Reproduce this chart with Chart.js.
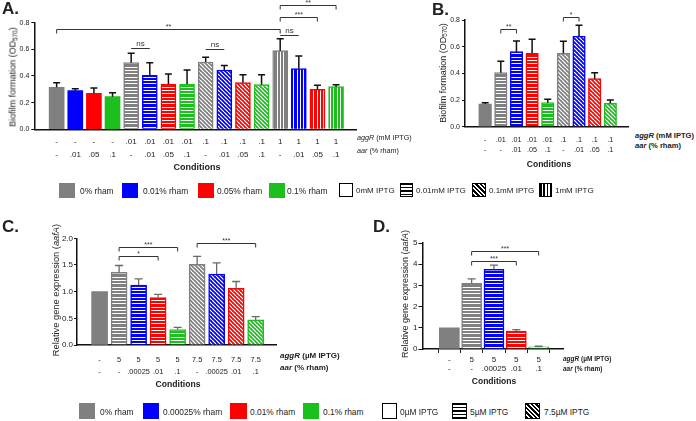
<!DOCTYPE html>
<html><head><meta charset="utf-8">
<script src="https://cdn.jsdelivr.net/npm/chart.js@4.4.1/dist/chart.umd.min.js"></script>
<style>
html,body{margin:0;padding:0;background:#fff;width:696px;height:421px;overflow:hidden;font-family:"Liberation Sans",Arial,sans-serif;color:#222}
canvas{position:absolute}
.t{position:absolute;white-space:nowrap;line-height:1;transform:translateY(-50%)}
.c{position:absolute;white-space:nowrap;line-height:1;transform:translate(-50%,-50%);font-weight:bold}
.yt{position:absolute;white-space:nowrap;line-height:1;transform:translate(-50%,-50%) rotate(-90deg)}
.yt sub{font-size:70%;vertical-align:-0.25em;line-height:0}
.L{position:absolute;font-weight:bold;line-height:1;transform:translateY(-50%)}
.sq{position:absolute;box-sizing:border-box}
.pw{border:1.5px solid #000;background:#fff}
.ph{border:1.5px solid #000;background:repeating-linear-gradient(180deg,#000 0 1.2px,#fff 1.2px 3.2px)}
.pd{border:1.5px solid #000;background:repeating-linear-gradient(45deg,#000 0 2px,#fff 2px 3.2px)}
.pv{border:1.5px solid #000;background:repeating-linear-gradient(90deg,#000 0 1.6px,#fff 1.6px 3.4px)}
</style></head>
<body>
<canvas id="cA" width="362" height="175" style="left:0;top:0"></canvas>
<canvas id="cB" width="200" height="175" style="left:430px;top:0"></canvas>
<canvas id="cC" width="285" height="190" style="left:0;top:200px"></canvas>
<canvas id="cD" width="190" height="190" style="left:380px;top:200px"></canvas>

<div class="L" style="left:2px;top:8px;font-size:17px">A.</div>
<div class="L" style="left:432px;top:9px;font-size:17px">B.</div>
<div class="L" style="left:2px;top:226px;font-size:17px">C.</div>
<div class="L" style="left:373px;top:226px;font-size:17px">D.</div>

<div class="yt" style="left:13px;top:77px;font-size:9px">Biofilm formation (OD<sub>570</sub>)</div>
<div class="yt" style="left:443px;top:73px;font-size:9px">Biofilm formation (OD<sub>570</sub>)</div>
<div class="yt" style="left:57px;top:290px;font-size:9.3px">Relative gene expression (<i>aafA</i>)</div>
<div class="yt" style="left:405px;top:294px;font-size:9px">Relative gene expression (<i>aafA</i>)</div>

<div class="t" style="left:357px;top:138px;font-size:7.2px"><i>aggR</i> (mM IPTG)</div>
<div class="t" style="left:357px;top:151px;font-size:7.2px"><i>aar</i> (% rham)</div>
<div class="t" style="left:635px;top:136px;font-size:7.6px;font-weight:bold"><i>aggR</i> (mM IPTG)</div>
<div class="t" style="left:635px;top:146px;font-size:7.6px;font-weight:bold"><i>aar</i> (% rham)</div>
<div class="t" style="left:280px;top:356px;font-size:8px;font-weight:bold"><i>aggR</i> (µM IPTG)</div>
<div class="t" style="left:280px;top:368px;font-size:8px;font-weight:bold"><i>aar</i> (% rham)</div>
<div class="t" style="left:563px;top:359px;font-size:6.5px;font-weight:bold"><i>aggR</i> (µM IPTG)</div>
<div class="t" style="left:563px;top:369px;font-size:6.5px;font-weight:bold"><i>aar</i> (% rham)</div>

<div class="c" style="left:197px;top:167px;font-size:9px">Conditions</div>
<div class="c" style="left:549px;top:164px;font-size:8.5px">Conditions</div>
<div class="c" style="left:178px;top:384px;font-size:8.6px">Conditions</div>
<div class="c" style="left:494px;top:381px;font-size:8.5px">Conditions</div>

<!-- legend A/B -->
<div class="sq" style="left:59px;top:183px;width:16px;height:15px;background:#808080"></div>
<div class="t" style="left:80px;top:190.5px;font-size:8.4px">0% rham</div>
<div class="sq" style="left:122px;top:183px;width:16px;height:15px;background:#0000ff"></div>
<div class="t" style="left:143px;top:190.5px;font-size:8.4px">0.01% rham</div>
<div class="sq" style="left:198px;top:183px;width:16px;height:15px;background:#ff0000"></div>
<div class="t" style="left:217px;top:190.5px;font-size:8.4px">0.05% rham</div>
<div class="sq" style="left:269px;top:183px;width:16px;height:15px;background:#1cc01c"></div>
<div class="t" style="left:287px;top:190.5px;font-size:8.4px">0.1% rham</div>
<div class="sq pw" style="left:339px;top:183px;width:14px;height:14px"></div>
<div class="t" style="left:356px;top:190.5px;font-size:8px">0mM IPTG</div>
<div class="sq ph" style="left:400px;top:183px;width:13px;height:14px"></div>
<div class="t" style="left:416px;top:190.5px;font-size:8px">0.01mM IPTG</div>
<div class="sq pd" style="left:472px;top:183px;width:14px;height:14px"></div>
<div class="t" style="left:489px;top:190.5px;font-size:8px">0.1mM IPTG</div>
<div class="sq pv" style="left:539px;top:183px;width:13px;height:14px"></div>
<div class="t" style="left:555px;top:190.5px;font-size:8px">1mM IPTG</div>

<!-- legend C/D -->
<div class="sq" style="left:79px;top:403px;width:16px;height:16px;background:#808080"></div>
<div class="t" style="left:100px;top:411.5px;font-size:8.4px">0% rham</div>
<div class="sq" style="left:143px;top:403px;width:16px;height:16px;background:#0000ff"></div>
<div class="t" style="left:163px;top:411.5px;font-size:8.4px">0.00025% rham</div>
<div class="sq" style="left:230px;top:403px;width:17px;height:16px;background:#ff0000"></div>
<div class="t" style="left:250px;top:411.5px;font-size:8.4px">0.01% rham</div>
<div class="sq" style="left:303px;top:403px;width:16px;height:16px;background:#1cc01c"></div>
<div class="t" style="left:323px;top:411.5px;font-size:8.4px">0.1% rham</div>
<div class="sq pw" style="left:382px;top:403px;width:15px;height:16px"></div>
<div class="t" style="left:400px;top:411.5px;font-size:8.4px">0µM IPTG</div>
<div class="sq ph" style="left:452px;top:403px;width:15px;height:16px"></div>
<div class="t" style="left:470px;top:411.5px;font-size:8.4px">5µM IPTG</div>
<div class="sq pd" style="left:525px;top:403px;width:15px;height:16px"></div>
<div class="t" style="left:544px;top:411.5px;font-size:8.4px">7.5µM IPTG</div>

<script>
// ---------- Panel A ----------
const aIPTG = ['-','-','-','-','.01','.01','.01','.01','.1','.1','.1','.1','1','1','1','1'];
const aRham = ['-','.01','.05','.1','-','.01','.05','.1','-','.01','.05','.1','-','.01','.05','.1'];
const aValues = [0.315,0.29,0.27,0.245,0.50,0.405,0.34,0.34,0.505,0.445,0.35,0.335,0.59,0.455,0.30,0.32];
const aErrors = [0.035,0.015,0.04,0.03,0.07,0.095,0.075,0.105,0.035,0.033,0.06,0.075,0.09,0.095,0.03,0.015];
const aBrackets = [[0,12,0.75,'**'],[4,5,0.61,'ns'],[8,9,0.60,'ns'],[12,13,0.71,'ns'],[12,14,0.84,'***'],[12,15,0.93,'**']];
// ---------- Panel B ----------
const bIPTG = ['-','.01','.01','.01','.01','.1','.1','.1','.1'];
const bRham = ['-','-','.01','.05','.1','-','.01','.05','.1'];
const bValues = [0.17,0.405,0.5625,0.55,0.18,0.55,0.68,0.36,0.175];
const bErrors = [0.01,0.085,0.08,0.105,0.025,0.09,0.08,0.045,0.025];
const bBrackets = [[1,2,0.73,'**'],[5,6,0.825,'*']];
// ---------- Panel C ----------
const cIPTG = ['-','5','5','5','5','7.5','7.5','7.5','7.5'];
const cRham = ['-','-','.00025','.01','.1','-','.00025','.01','.1'];
const cValues = [1.0,1.36,1.125,0.89,0.29,1.51,1.33,1.06,0.47];
const cErrors = [0,0.13,0.115,0.06,0.04,0.15,0.21,0.13,0.06];
const cBrackets = [[1,4,1.84,'***'],[1,3,1.67,'*'],[5,8,1.91,'***']];
// ---------- Panel D ----------
const dIPTG = ['-','5','5','5','5'];
const dRham = ['-','-','.00025','.01','.1'];
const dValues = [1.0,3.1,3.76,0.85,0.1];
const dErrors = [0,0.21,0.2,0.06,0.03];
const dBrackets = [[1,3,4.17,'***'],[1,4,4.64,'***']];

// ---------- styles ----------
const GRAY='#808080', BLUE='#0000ff', RED='#ff0000', GREEN='#1cc01c';
const colorAB = {'-':GRAY,'.01':BLUE,'.05':RED,'.1':GREEN};
const patAB = {'-':'solid','.01':'h','.1':'d','1':'v'};
const colorCD = {'-':GRAY,'.00025':BLUE,'.01':RED,'.1':GREEN};
const patCD = {'-':'solid','5':'h','7.5':'d'};

Chart.defaults.font.family = '"Liberation Sans", Arial, sans-serif';

function fillFor(color, pat){
  if (pat==='solid') return color;
  const S=3, c=document.createElement('canvas');
  let w,h;
  if (pat==='h'){w=S;h=10;} else if (pat==='v'){w=10;h=S;} else {w=12;h=12;}
  c.width=w;c.height=h;
  const g=c.getContext('2d');
  g.fillStyle=color; g.fillRect(0,0,w,h);
  g.fillStyle='#fff'; g.strokeStyle='#fff';
  if (pat==='h') g.fillRect(0,0,w,3);
  else if (pat==='v') g.fillRect(0,0,3,h);
  else { g.lineWidth=4; for (const x0 of [-12,0,12]) { g.beginPath(); g.moveTo(x0,0); g.lineTo(x0+12,12); g.stroke(); } }
  const p=g.createPattern(c,'repeat');
  p.setTransform(new DOMMatrix([1/S,0,0,1/S,0,0]));
  return p;
}

const extras = {
  id:'extras',
  afterDatasetsDraw(chart, args, o){
    const ctx=chart.ctx, meta=chart.getDatasetMeta(0), ys=chart.scales.y, ds=chart.data.datasets[0];
    ctx.save();
    ctx.strokeStyle=o.errColor; ctx.lineWidth=o.errWidth; ctx.lineCap='butt';
    o.errors.forEach((e,i)=>{
      if(!e) return;
      const bar=meta.data[i], v=ds.data[i].y;
      const y0=ys.getPixelForValue(v), y1=ys.getPixelForValue(v+e);
      ctx.beginPath();
      ctx.moveTo(bar.x,y0); ctx.lineTo(bar.x,y1);
      ctx.moveTo(bar.x-o.capW/2,y1); ctx.lineTo(bar.x+o.capW/2,y1);
      ctx.stroke();
    });
    ctx.strokeStyle=o.brColor; ctx.fillStyle=o.brColor; ctx.lineWidth=o.brWidth;
    ctx.textAlign='center'; ctx.textBaseline='bottom';
    o.brackets.forEach(([a,b,yv,label])=>{
      const xa=meta.data[a].x, xb=meta.data[b].x, y=Math.round(ys.getPixelForValue(yv))+0.5;
      const leg = label==='ns' ? 0 : o.leg;
      ctx.beginPath();
      ctx.moveTo(xa,y+leg); ctx.lineTo(xa,y); ctx.lineTo(xb,y); ctx.lineTo(xb,y+leg);
      ctx.stroke();
      ctx.font = (label==='ns' ? o.nsFont : o.starFont);
      ctx.fillText(label,(xa+xb)/2, label==='ns' ? y-1 : y+1.5);
    });
    ctx.restore();
  }
};

function build(id, c){
  const pts=c.values.map((v,i)=>({x:i,y:v}));
  const bg=c.values.map((v,i)=>fillFor(c.colorMap[c.rham[i]], c.patMap[c.iptg[i]]));
  const bc=c.values.map((v,i)=>c.colorMap[c.rham[i]]);
  const bw=c.iptg.map(k=>c.patMap[k]==='solid'?0:c.borderW);
  new Chart(document.getElementById(id),{
    type:'bar',
    data:{datasets:[{data:pts,backgroundColor:bg,borderColor:bc,borderWidth:bw,barThickness:c.barW,borderSkipped:'start'}]},
    options:{
      responsive:false, animation:false, devicePixelRatio:1,
      layout:{padding:c.pad},
      plugins:{legend:{display:false},tooltip:{enabled:false},
        extras:{errors:c.errors,brackets:c.brackets,errColor:c.errColor,errWidth:c.errWidth,capW:c.capW,
                brColor:'#333',brWidth:1,leg:4,nsFont:c.nsFont,starFont:c.starFont}},
      scales:{
        x:{type:'linear',min:c.xmin,max:c.xmax,
           grid:{display:c.xTicks,drawOnChartArea:false,tickLength:4,color:'#222',lineWidth:1},
           border:{display:true,color:'#111',width:1.5},
           ticks:{font:{size:c.xFont,lineHeight:c.xLine},color:'#222',padding:c.xPad,maxRotation:0,minRotation:0,autoSkip:false,
                  callback:v=>[c.iptg[v],c.rham[v]]},
           afterBuildTicks:s=>{s.ticks=c.iptg.map((_,i)=>({value:i}));},
           afterFit:s=>{s.height=c.xH;}},
        y:{min:0,max:c.ymax,
           grid:{display:true,drawOnChartArea:false,tickLength:c.yTickLen,color:'#111',lineWidth:1},
           border:{display:true,color:'#111',width:1.5},
           ticks:{stepSize:c.ystep,font:{size:c.yFont},color:'#222',padding:c.yPad,callback:v=>v.toFixed(c.ydec)},
           afterFit:s=>{s.width=c.yW;}}
      }
    },
    plugins:[extras]
  });
}

build('cA',{iptg:aIPTG,rham:aRham,values:aValues,errors:aErrors,brackets:aBrackets,colorMap:colorAB,patMap:patAB,
  barW:15,borderW:1.5,pad:{top:22.7,left:0,right:6,bottom:0},yW:34.3,xH:45.7,xmin:-0.66,xmax:15.53,
  xTicks:false,xFont:8,xLine:13/8,xPad:2.2,ymax:0.8,ystep:0.2,ydec:1,yFont:7,yPad:2,yTickLen:3,
  errColor:'#111',errWidth:1.5,capW:7,nsFont:'8px "Liberation Sans"',starFont:'7px "Liberation Sans"'});
build('cB',{iptg:bIPTG,rham:bRham,values:bValues,errors:bErrors,brackets:bBrackets,colorMap:colorAB,patMap:patAB,
  barW:12.5,borderW:1.5,pad:{top:20,left:0,right:1.7,bottom:0},yW:35,xH:48.3,xmin:-0.71,xmax:8.57,
  xTicks:false,xFont:7.2,xLine:10/7.2,xPad:4,ymax:0.8,ystep:0.2,ydec:1,yFont:7,yPad:2,yTickLen:3,
  errColor:'#111',errWidth:1.5,capW:7,nsFont:'8px "Liberation Sans"',starFont:'7px "Liberation Sans"'});
build('cC',{iptg:cIPTG,rham:cRham,values:cValues,errors:cErrors,brackets:cBrackets,colorMap:colorCD,patMap:patCD,
  barW:16,borderW:1.5,pad:{top:38.3,left:0,right:8.3,bottom:0},yW:77,xH:45,xmin:-0.59,xmax:8.51,
  xTicks:false,xFont:7.4,xLine:12.3/7.4,xPad:4.8,ymax:2,ystep:0.5,ydec:1,yFont:8,yPad:1,yTickLen:3,
  errColor:'#6a6a6a',errWidth:1.3,capW:8,nsFont:'8px "Liberation Sans"',starFont:'7px "Liberation Sans"'});
build('cD',{iptg:dIPTG,rham:dRham,values:dValues,errors:dErrors,brackets:dBrackets,colorMap:colorCD,patMap:patCD,
  barW:20,borderW:1.5,pad:{top:43,left:0,right:7,bottom:0},yW:42.5,xH:41,xmin:-0.57,xmax:4.46,
  xTicks:true,xFont:8,xLine:9.7/8,xPad:1.5,ymax:5,ystep:1,ydec:0,yFont:8,yPad:1,yTickLen:4,
  errColor:'#6a6a6a',errWidth:1.3,capW:8,nsFont:'8px "Liberation Sans"',starFont:'7px "Liberation Sans"'});
</script>
</body></html>
